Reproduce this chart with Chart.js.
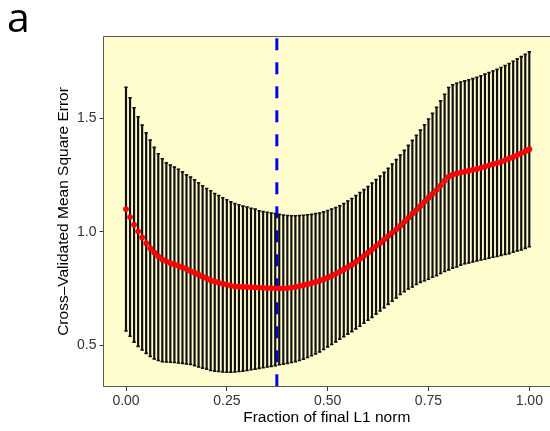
<!DOCTYPE html>
<html>
<head>
<meta charset="utf-8">
<title>Cross-Validated MSE</title>
<script src="https://cdn.jsdelivr.net/npm/chart.js@4.4.1/dist/chart.umd.min.js"></script>
<style>
    html, body { margin: 0; padding: 0; background: #ffffff; }
    #wrap { position: relative; width: 550px; height: 431px; }
</style>
</head>
<body>
<div id="wrap"><canvas id="cvChart" width="550" height="431"></canvas></div>
<script>
// Fraction of final L1 norm (x positions of the CV folds)
const fractions = [
    0.00, 0.01, 0.02, 0.03, 0.04, 0.05, 0.06, 0.07, 0.08, 0.09,
    0.10, 0.11, 0.12, 0.13, 0.14, 0.15, 0.16, 0.17, 0.18, 0.19,
    0.20, 0.21, 0.22, 0.23, 0.24, 0.25, 0.26, 0.27, 0.28, 0.29,
    0.30, 0.31, 0.32, 0.33, 0.34, 0.35, 0.36, 0.37, 0.38, 0.39,
    0.40, 0.41, 0.42, 0.43, 0.44, 0.45, 0.46, 0.47, 0.48, 0.49,
    0.50, 0.51, 0.52, 0.53, 0.54, 0.55, 0.56, 0.57, 0.58, 0.59,
    0.60, 0.61, 0.62, 0.63, 0.64, 0.65, 0.66, 0.67, 0.68, 0.69,
    0.70, 0.71, 0.72, 0.73, 0.74, 0.75, 0.76, 0.77, 0.78, 0.79,
    0.80, 0.81, 0.82, 0.83, 0.84, 0.85, 0.86, 0.87, 0.88, 0.89,
    0.90, 0.91, 0.92, 0.93, 0.94, 0.95, 0.96, 0.97, 0.98, 0.99,
    1.00
];

// Mean CV error (red points)
const cvMean = [
    1.100, 1.065, 1.031, 1.002, 0.975, 0.950, 0.928, 0.909, 0.892, 0.878,
    0.870, 0.862, 0.856, 0.850, 0.843, 0.836, 0.827, 0.820, 0.811, 0.802,
    0.795, 0.787, 0.781, 0.775, 0.771, 0.767, 0.762, 0.759, 0.758, 0.757,
    0.757, 0.756, 0.755, 0.754, 0.753, 0.752, 0.752, 0.751, 0.751, 0.751,
    0.752, 0.754, 0.757, 0.761, 0.765, 0.769, 0.774, 0.779, 0.784, 0.791,
    0.798, 0.806, 0.815, 0.824, 0.834, 0.844, 0.855, 0.867, 0.880, 0.894,
    0.908, 0.922, 0.937, 0.951, 0.966, 0.981, 0.996, 1.011, 1.027, 1.044,
    1.062, 1.080, 1.097, 1.114, 1.132, 1.150, 1.167, 1.185, 1.204, 1.225,
    1.243, 1.252, 1.257, 1.261, 1.265, 1.269, 1.273, 1.277, 1.282, 1.288,
    1.293, 1.298, 1.303, 1.309, 1.316, 1.323, 1.330, 1.338, 1.346, 1.355,
    1.364
];

// Upper end of the error bars
const cvUpper = [
    1.637, 1.591, 1.547, 1.507, 1.470, 1.436, 1.404, 1.372, 1.344, 1.322,
    1.304, 1.294, 1.285, 1.276, 1.264, 1.251, 1.241, 1.229, 1.216, 1.203,
    1.191, 1.181, 1.169, 1.160, 1.150, 1.141, 1.132, 1.125, 1.119, 1.113,
    1.109, 1.104, 1.100, 1.093, 1.089, 1.086, 1.083, 1.080, 1.077, 1.074,
    1.072, 1.071, 1.071, 1.072, 1.073, 1.075, 1.077, 1.080, 1.083, 1.088,
    1.094, 1.100, 1.107, 1.115, 1.125, 1.136, 1.147, 1.160, 1.173, 1.186,
    1.200, 1.215, 1.230, 1.246, 1.262, 1.280, 1.299, 1.318, 1.338, 1.359,
    1.381, 1.403, 1.425, 1.448, 1.472, 1.497, 1.522, 1.549, 1.577, 1.606,
    1.636, 1.648, 1.655, 1.660, 1.665, 1.670, 1.675, 1.681, 1.688, 1.695,
    1.702, 1.709, 1.716, 1.724, 1.733, 1.742, 1.752, 1.762, 1.772, 1.782,
    1.793
];

// Lower end of the error bars
const cvLower = [
    0.563, 0.540, 0.514, 0.495, 0.479, 0.464, 0.451, 0.440, 0.433, 0.428,
    0.426, 0.425, 0.424, 0.422, 0.420, 0.418, 0.415, 0.410, 0.404, 0.399,
    0.394, 0.389, 0.386, 0.384, 0.382, 0.381, 0.381, 0.382, 0.384, 0.386,
    0.389, 0.392, 0.395, 0.398, 0.401, 0.404, 0.407, 0.410, 0.414, 0.417,
    0.420, 0.424, 0.428, 0.433, 0.439, 0.446, 0.454, 0.462, 0.471, 0.481,
    0.493, 0.503, 0.515, 0.527, 0.538, 0.549, 0.560, 0.572, 0.584, 0.597,
    0.610, 0.623, 0.637, 0.651, 0.665, 0.680, 0.694, 0.709, 0.724, 0.736,
    0.748, 0.757, 0.768, 0.777, 0.784, 0.791, 0.800, 0.807, 0.816, 0.825,
    0.832, 0.840, 0.845, 0.853, 0.859, 0.863, 0.867, 0.872, 0.876, 0.879,
    0.884, 0.888, 0.891, 0.896, 0.900, 0.904, 0.910, 0.916, 0.920, 0.927,
    0.934
];

// Chosen fraction (dashed vertical line)
const bestFraction = 0.374;

// Axis ticks
const xTicks = [0, 0.25, 0.5, 0.75, 1];
const yTicks = [0.5, 1.0, 1.5];
const xRange = [-0.0558, 1.0513];
const yRange = [0.316, 1.863];

const panelColor = '#fffccd';
const inkColor = '#111111';
const labelFont = { family: "'Liberation Sans', Arial, sans-serif", size: 14 };
const titleFont = { family: "'Liberation Sans', Arial, sans-serif", size: 15.5 };

// Yellow panel, its frame and the panel letter
const panelPlugin = {
    id: 'panel',
    beforeDraw(chart) {
        const { ctx, chartArea } = chart;
        ctx.save();
        ctx.fillStyle = panelColor;
        ctx.fillRect(chartArea.left, chartArea.top, chartArea.right - chartArea.left, chartArea.bottom - chartArea.top);
        ctx.restore();
    },
    afterDraw(chart) {
        const { ctx, chartArea } = chart;
        ctx.save();
        ctx.strokeStyle = '#555555';
        ctx.lineWidth = 1;
        ctx.beginPath();
        ctx.moveTo(chartArea.right, chartArea.top + 0.5);
        ctx.lineTo(chartArea.left, chartArea.top + 0.5);
        ctx.lineTo(chartArea.left, chartArea.bottom - 0.5);
        ctx.lineTo(chartArea.right, chartArea.bottom - 0.5);
        ctx.stroke();

        ctx.fillStyle = '#000000';
        ctx.font = "41px 'Open Sans', sans-serif";
        ctx.textBaseline = 'alphabetic';
        ctx.fillText('a', 7, 32);
        ctx.restore();
    }
};

function buildChart() {
    const ctx = document.getElementById('cvChart').getContext('2d');

    const barData = fractions.map((x, i) => ({ x: x, y: [cvLower[i], cvUpper[i]] }));
    const upperCaps = fractions.map((x, i) => ({ x: x, y: cvUpper[i] }));
    const lowerCaps = fractions.map((x, i) => ({ x: x, y: cvLower[i] }));
    const meanPoints = fractions.map((x, i) => ({ x: x, y: cvMean[i] }));

    const capStyle = {
        type: 'line',
        showLine: false,
        pointStyle: 'line',
        pointRadius: 1.7,
        pointBorderWidth: 1.6,
        pointBorderColor: inkColor,
        order: 2
    };

    new Chart(ctx, {
        type: 'bar',
        data: {
            datasets: [
                {
                    type: 'line',
                    data: [{ x: bestFraction, y: yRange[1] }, { x: bestFraction, y: yRange[0] }],
                    borderColor: '#0000ff',
                    borderWidth: 3,
                    borderDash: [12, 12],
                    borderDashOffset: 21.7,
                    pointRadius: 0,
                    order: 4
                },
                {
                    type: 'bar',
                    data: barData,
                    backgroundColor: inkColor,
                    borderWidth: 0,
                    barThickness: 1.5,
                    order: 3
                },
                Object.assign({ data: upperCaps }, capStyle),
                Object.assign({ data: lowerCaps }, capStyle),
                {
                    type: 'line',
                    data: meanPoints,
                    showLine: false,
                    pointRadius: 2.9,
                    pointBorderWidth: 0,
                    pointBackgroundColor: '#ff0000',
                    order: 1
                }
            ]
        },
        options: {
            responsive: false,
            devicePixelRatio: 1,
            animation: false,
            events: [],
            layout: { autoPadding: false, padding: { top: 36, left: 0, right: 0, bottom: 0 } },
            plugins: {
                legend: { display: false },
                tooltip: { enabled: false }
            },
            scales: {
                x: {
                    type: 'linear',
                    min: xRange[0],
                    max: xRange[1],
                    offset: false,
                    afterBuildTicks: scale => { scale.ticks = xTicks.map(v => ({ value: v })); },
                    afterFit: scale => {
                        scale.height = 44;
                        scale.paddingLeft = 0;
                        scale.paddingRight = 0;
                    },
                    ticks: {
                        callback: v => v.toFixed(2),
                        color: '#333333',
                        font: labelFont,
                        padding: 2,
                        maxRotation: 0,
                        autoSkip: false
                    },
                    grid: { drawOnChartArea: false, drawTicks: true, tickLength: 4, color: '#333333', offset: false },
                    border: { display: false },
                    title: {
                        display: true,
                        text: 'Fraction of final L1 norm',
                        color: '#000000',
                        font: titleFont,
                        padding: { top: 0, bottom: 4 }
                    }
                },
                y: {
                    type: 'linear',
                    min: yRange[0],
                    max: yRange[1],
                    afterBuildTicks: scale => { scale.ticks = yTicks.map(v => ({ value: v })); },
                    afterFit: scale => {
                        scale.width = 103.5;
                        scale.paddingTop = 0;
                        scale.paddingBottom = 0;
                    },
                    ticks: {
                        callback: v => v.toFixed(1),
                        color: '#333333',
                        font: labelFont,
                        padding: 3
                    },
                    grid: { drawOnChartArea: false, drawTicks: true, tickLength: 4, color: '#333333' },
                    border: { display: false },
                    title: {
                        display: true,
                        text: 'Cross–Validated Mean Square Error',
                        color: '#000000',
                        font: titleFont,
                        padding: { top: 54, bottom: 0 }
                    }
                }
            }
        },
        plugins: [panelPlugin]
    });
}

document.addEventListener('DOMContentLoaded', buildChart);
</script>
</body>
</html>
